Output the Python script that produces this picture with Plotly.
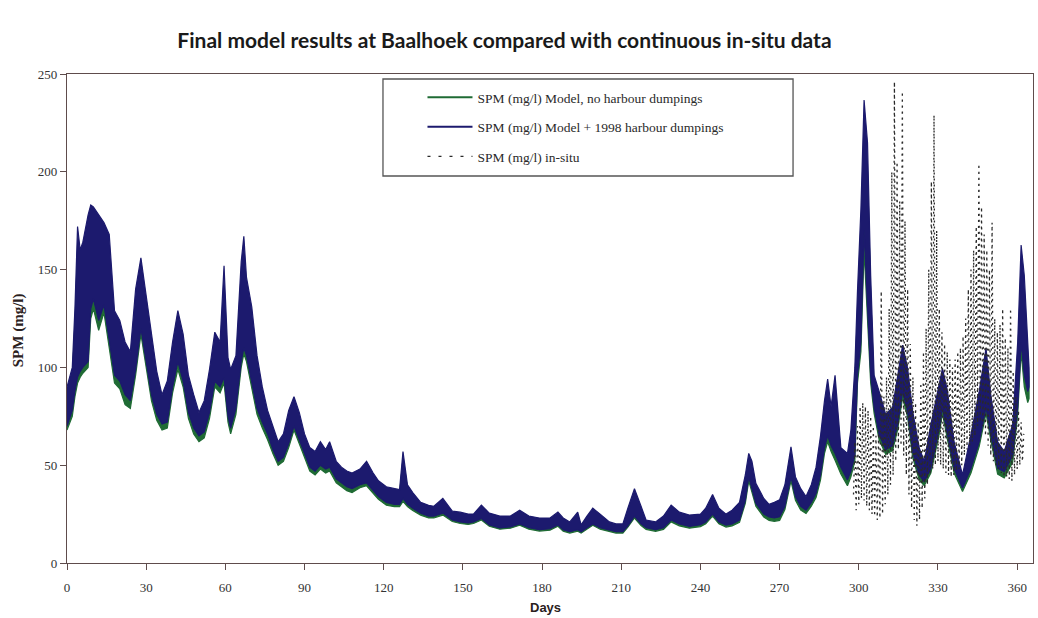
import plotly.graph_objects as go

# ---------------- data ----------------
MODEL_DAYS = [
    0, 2, 3, 4, 5, 6, 8, 9, 10, 12,
    14, 16, 18, 20, 22, 24, 26, 28, 30, 32,
    34, 36, 38, 40, 42, 44, 46, 48, 50, 52,
    54, 56, 58, 59.5, 61, 62, 64, 66, 67, 68,
    70, 72, 74, 76, 78, 80, 82, 84, 86, 88,
    90, 92, 94, 96, 98, 99.5, 102, 104, 106, 108,
    111, 113.5, 116, 118, 121, 124, 126, 127.3, 129, 131,
    134, 137, 139, 142.4, 146, 149, 152, 154, 157, 160,
    164, 168, 171.5, 175, 179, 183, 186, 188, 190.5, 193.5,
    194.8, 197, 199.2, 202, 205.5, 208, 210.6, 212.5, 215, 217.5,
    219.4, 223, 226, 228.9, 232, 235.8, 240, 242, 244.6, 247,
    249.7, 252, 254.8, 257, 258.3, 259.5, 261, 264, 266, 268,
    270, 272, 274.3, 276, 278, 280, 282, 283.8, 285.5, 287,
    288.2, 289.5, 291, 293.2, 295.7, 297, 298.5, 299.5, 300.8, 302,
    303.3, 304.5, 305.8, 307.7, 310.2, 312.8, 314.7, 316.6, 318.5, 320.4,
    322.9, 324.8, 327.3, 330.5, 331.7, 333.6, 336.1, 339.3, 342.5, 345.6,
    348.2, 350, 352.6, 355.1, 358.3, 360.2, 361.5, 362.7, 364, 364.5,
]

# Model + 1998 harbour dumpings (blue): upper / lower edge of the tidal band
BLUE_HI = [
    90, 100, 130, 172, 160, 164, 178, 183, 182, 178,
    174, 168, 129, 124, 113, 108, 140, 156, 137, 117,
    98, 86, 93, 113, 129, 117, 96, 86, 77, 83,
    99, 118, 113, 152, 105, 99, 106, 154, 167, 146,
    131, 106, 90, 78, 70, 62, 66, 78, 85, 77,
    66, 59, 57, 62, 58, 62, 52, 49, 47, 46,
    48, 52, 46, 42, 39, 38, 37.5, 57, 40, 36,
    31, 29.5, 29, 33, 26.5, 26, 25, 25, 29.6, 25.5,
    24, 24, 27, 24, 23, 23, 26, 23, 21, 26,
    19.5, 24, 28, 25, 21, 20, 20, 28, 38, 29,
    22, 21, 24, 29.6, 26, 24.5, 25, 28, 35, 28,
    25, 27, 31, 45, 56, 52, 40.7, 33, 30, 31,
    32.3, 40, 59.4, 44, 38, 34, 40, 49, 65, 83,
    94, 80, 96, 59, 56, 68, 100, 139, 181, 236.7,
    215, 147, 96, 87.7, 76, 79.6, 96, 111.4, 99.5, 77.6,
    58.8, 52, 70.8, 92.8, 99.5, 87.7, 62, 45, 65.7, 87.7,
    109.7, 86, 62, 57, 70.8, 113, 162.6, 147, 113, 100,
]
BLUE_LO = [
    70, 78, 88, 95, 98, 100, 103, 130, 135, 124,
    132, 113, 96, 93, 86, 83, 99, 120, 103, 86,
    76, 71, 72, 90, 103, 93, 77, 69, 65, 67,
    77, 93, 90, 95, 75, 69, 79, 103, 110, 106,
    93, 79, 72, 66, 58, 52, 54, 61, 70, 63,
    56, 49, 47, 50, 48, 49, 43, 41, 39, 38,
    40, 41, 37, 34, 31, 30, 30, 33, 30, 28,
    25.5, 24, 24, 25.5, 22, 21, 20.5, 21, 22.8, 19.5,
    18, 18.5, 20, 18, 17, 17.5, 19.5, 17, 16, 17,
    16, 18, 20, 18, 17, 16, 16, 19, 24, 20,
    18, 17, 18, 22, 20, 18.7, 19.6, 21, 25, 21,
    19.4, 20, 22, 32, 44, 38, 30.5, 25, 23.6, 23,
    23.6, 29, 44, 34, 29, 27, 31, 35.6, 45, 59,
    65, 60, 56, 49, 42.5, 47, 55, 96, 113, 170,
    130, 96, 79.6, 65.7, 58, 60, 70.8, 87.7, 77.6, 56.8,
    45, 41.6, 48.4, 69, 79.6, 65.7, 48.4, 38.3, 48.4, 62,
    79.6, 65.7, 48.4, 46.7, 55, 79.6, 113, 96, 87.7, 90,
]

# Model, no harbour dumpings (green): upper / lower edge of the tidal band
GREEN_HI = [
    86, 96, 122, 160, 150, 155, 168, 172, 170, 165,
    162, 156, 122, 117, 106, 102, 132, 148, 130, 110,
    92, 81, 88, 106, 121, 110, 90, 81, 73, 78,
    93, 111, 106, 140, 98, 93, 100, 145, 155, 137,
    123, 100, 85, 74, 66, 59, 63, 74, 81, 73,
    63, 56, 54, 59, 55, 59, 49, 46, 44, 43,
    45, 49, 43, 39.5, 37, 36, 35.5, 53, 38, 34,
    29.5, 28, 27.5, 31.5, 25, 24.5, 24, 24, 28, 24.5,
    23, 23, 26, 23, 22, 22, 25, 22, 20, 24.5,
    18.5, 23, 26.5, 24, 20, 19, 19, 26.5, 36, 27.5,
    21, 20, 23, 28, 24.5, 23, 24, 26.5, 33, 26.5,
    23.5, 25.5, 29, 42, 52, 48, 38, 31, 28, 29,
    30, 37.5, 55, 41, 35.5, 32, 37.5, 46, 61, 78,
    88, 75, 90, 55, 52, 63, 93, 128, 168, 220,
    200, 137, 90, 82, 71, 74.5, 90, 104, 93, 72,
    54.5, 48.5, 66, 87, 93, 82, 58, 42, 61, 82,
    102, 80, 58, 53, 66, 105, 150, 136, 105, 95,
]
GREEN_LO = [
    68, 75, 85, 92, 95, 97, 100, 125, 130, 119,
    128, 109, 92, 89, 81, 79, 96, 117, 100, 83,
    73, 68, 69, 87, 99, 90, 74, 66, 62, 64,
    74, 90, 87, 92, 72, 66, 76, 100, 107, 103,
    90, 76, 69, 63, 56, 50, 52, 59, 68, 61,
    54, 47, 45, 48, 46, 47, 41, 39, 37, 36,
    38.5, 39.5, 35.5, 32.5, 29.5, 28.8, 28.8, 31.5, 28.8, 26.8,
    24.5, 23, 23, 24.5, 21.2, 20.2, 19.7, 20.2, 22, 18.8,
    17.3, 17.8, 19.3, 17.3, 16.3, 16.8, 18.8, 16.3, 15.3, 16.3,
    15.3, 17.3, 19.3, 17.3, 16.3, 15.3, 15.3, 18.3, 23, 19.2,
    17.2, 16.2, 17.2, 21, 19, 17.8, 18.6, 20, 24, 20,
    18.4, 19, 20.8, 30.5, 42, 36, 29, 23.5, 21.8, 21.3,
    21.8, 27.3, 42, 32, 27, 25.3, 29, 33.5, 42.5, 56,
    62, 57, 52.5, 45.5, 39.5, 44, 52, 92, 108, 160,
    124, 92, 76.5, 63, 55.5, 57.5, 68, 84.5, 74.5, 54,
    42.5, 39.5, 46, 66, 76.5, 63, 46, 36.5, 46, 59.5,
    76.5, 63, 45.5, 43.5, 51.5, 76, 108, 90, 82, 84,
]

# In-situ measurements: daily high / low of the tidal scatter
INSITU_DAYS = list(range(298, 363))
INSITU_HI = [
    62, 70, 80, 82, 80, 78, 75, 70, 65, 68,
    139, 85, 95, 130, 200, 246, 205, 185, 241, 175,
    140, 112, 95, 82, 72, 92, 108, 120, 150, 195,
    229, 170, 130, 118, 112, 108, 104, 100, 104, 108,
    110, 116, 125, 140, 150, 160, 172, 204, 182, 168,
    160, 150, 174, 125, 118, 122, 130, 115, 110, 130,
    98, 85, 78, 72, 66,
]
INSITU_LO = [
    35, 27, 30, 33, 32, 29, 27, 25, 24, 22,
    23, 25, 30, 35, 40, 45, 52, 58, 60, 55,
    45, 35, 28, 22, 19, 22, 28, 33, 40, 45,
    48, 50, 52, 50, 48, 46, 45, 44, 45, 47,
    48, 50, 55, 58, 60, 62, 65, 70, 72, 70,
    65, 60, 55, 52, 50, 48, 46, 44, 44, 43,
    42, 45, 48, 50, 52,
]

X_TICKS = [0, 30, 60, 90, 120, 150, 180, 210, 240, 270, 300, 330, 360]
Y_TICKS = [0, 50, 100, 150, 200, 250]

NAME_GREEN = "SPM (mg/l) Model, no harbour dumpings"
NAME_BLUE = "SPM (mg/l) Model + 1998 harbour dumpings"
NAME_INSITU = "SPM (mg/l) in-situ"
TITLE = "Final model results at Baalhoek compared with continuous in-situ data"

# ---------------- styling ----------------
GREEN = "#1f6b34"
BLUE = "#1c1a6e"
INK = "#2a2a2a"
AXIS = "#5e4c4c"
SERIF = "Liberation Serif, Times New Roman, serif"

fig = go.Figure()

# model bands (tidal oscillation envelopes)
fig.add_trace(go.Scatter(
    x=MODEL_DAYS + MODEL_DAYS[::-1], y=GREEN_HI + GREEN_LO[::-1],
    mode="lines", fill="toself", fillcolor=GREEN,
    line=dict(color=GREEN, width=1.2), showlegend=False, hoverinfo="skip"))
fig.add_trace(go.Scatter(
    x=MODEL_DAYS + MODEL_DAYS[::-1], y=BLUE_HI + BLUE_LO[::-1],
    mode="lines", fill="toself", fillcolor=BLUE,
    line=dict(color=BLUE, width=1.2), showlegend=False, hoverinfo="skip"))

# in-situ: zigzag between the daily low and high, dashed
xs, ys = [], []
for d, lo, hi in zip(INSITU_DAYS, INSITU_LO, INSITU_HI):
    xs += [d, d + 0.5]
    ys += [lo, hi]
fig.add_trace(go.Scatter(
    x=xs, y=ys, mode="lines",
    line=dict(color=INK, width=1.3, dash="2px,4px"),
    showlegend=False, hoverinfo="skip"))

# legend entries
fig.add_trace(go.Scatter(x=[None], y=[None], mode="lines", name=NAME_GREEN,
                         legendgroup="g", line=dict(color=GREEN, width=2)))
fig.add_trace(go.Scatter(x=[None], y=[None], mode="lines", name=NAME_BLUE,
                         legendgroup="b", line=dict(color=BLUE, width=2)))
fig.add_trace(go.Scatter(x=[None], y=[None], mode="lines", name=NAME_INSITU,
                         legendgroup="i", line=dict(color=INK, width=1.2, dash="3px,8px")))

fig.update_layout(
    width=1038, height=618,
    margin=dict(l=67, r=5, t=74, b=55),
    paper_bgcolor="white", plot_bgcolor="white",
    title=dict(text="<b>" + TITLE + "</b>", x=0.486, xanchor="center",
               y=0.935, yanchor="middle",
               font=dict(family="Lato, Open Sans, sans-serif", size=21, color="#1a1a1a")),
    showlegend=True,
    legend=dict(x=0.368, y=0.9836, xanchor="left", yanchor="top",
                bgcolor="rgba(255,255,255,0)", borderwidth=0,
                font=dict(family=SERIF, size=13.5, color=INK),
                tracegroupgap=9, itemwidth=45,
                traceorder="grouped"),
    xaxis=dict(range=[0, 366], tickvals=X_TICKS, showgrid=False, zeroline=False,
               showline=True, linecolor=AXIS, linewidth=1.3, mirror=True,
               ticks="outside", ticklen=6, tickcolor=AXIS, tickwidth=1.2,
               ticklabelstandoff=6,
               tickfont=dict(family=SERIF, size=13, color="#333333")),
    yaxis=dict(range=[0, 250], tickvals=Y_TICKS, showgrid=False, zeroline=False,
               showline=True, linecolor=AXIS, linewidth=1.3, mirror=True,
               ticks="outside", ticklen=6, tickcolor=AXIS, tickwidth=1.2,
               tickfont=dict(family=SERIF, size=13, color="#333333")),
    shapes=[dict(type="rect", xref="paper", yref="paper",
                 x0=0.3271, x1=0.7516, y0=0.7914, y1=0.9898,
                 line=dict(color="#555555", width=1.3), fillcolor="rgba(0,0,0,0)")],
    annotations=[
        dict(text="<b>SPM (mg/l)</b>", xref="paper", yref="paper",
             x=-0.0507, y=0.476, textangle=-90, showarrow=False,
             xanchor="center", yanchor="middle",
             font=dict(family=SERIF, size=15, color="#2a2020")),
        dict(text="<b>Days</b>", xref="paper", yref="paper",
             x=0.495, y=-0.09, showarrow=False, xanchor="center", yanchor="middle",
             font=dict(family="Liberation Sans, Arial, sans-serif", size=13, color="#2a2020")),
    ],
)

fig.write_html("out.html")
